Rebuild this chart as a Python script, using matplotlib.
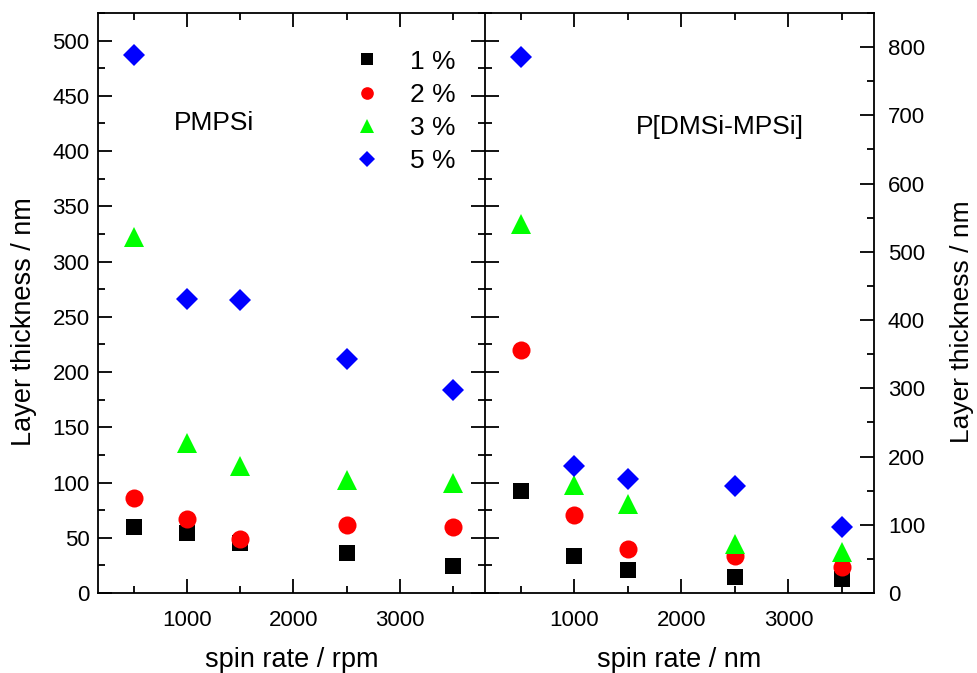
import matplotlib
matplotlib.use("Agg")
import matplotlib.pyplot as plt

plt.rcParams['font.family'] = ['Liberation Sans', 'DejaVu Sans']

spin = [500, 1000, 1500, 2500, 3500]

# PMPSi layer thickness (nm)
pmpsi_1 = [59.5, 54.6, 45, 36.5, 24.5]
pmpsi_2 = [85.7, 66.7, 48.6, 61.6, 59.5]
pmpsi_3 = [322, 136, 115, 102, 100]
pmpsi_5 = [487, 266, 265.5, 212, 183.5]

# P[DMSi-MPSi] layer thickness (nm)
copo_1 = [149, 53.7, 33.2, 23.5, 20.5]
copo_2 = [355.7, 113.8, 65, 54, 38]
copo_3 = [540.8, 157.6, 130.2, 72, 59.4]
copo_5 = [785, 185.6, 167, 156.3, 96.2]

labels = ['1 %', '2 %', '3 %', '5 %']
colors = ['black', '#ff0000', '#00ff00', '#0000ff']
markers = ['s', 'o', '^', 'D']
sizes = [12, 13, 14, 11.5]

fig = plt.figure(figsize=(9.78, 6.73), dpi=100)
ax1 = fig.add_axes([0.1002, 0.1189, 0.3957, 0.8618])
ax2 = fig.add_axes([0.4959, 0.1189, 0.3978, 0.8618])
ax2.patch.set_alpha(0)

for ax, series in ((ax1, [pmpsi_1, pmpsi_2, pmpsi_3, pmpsi_5]),
                   (ax2, [copo_1, copo_2, copo_3, copo_5])):
    for y, lab, c, m, s in zip(series, labels, colors, markers, sizes):
        ax.plot(spin, y, linestyle='none', marker=m, color=c, markersize=s,
                markeredgewidth=0, label=lab)
    ax.set_xlim(165, 3800)
    ax.set_xticks([1000, 2000, 3000])
    ax.set_xticks([500, 1500, 2500, 3500], minor=True)
    for sp in ax.spines.values():
        sp.set_linewidth(1.3)
    ax.tick_params(which='both', direction='in', top=True, width=1.3,
                   labelsize=16)
    ax.tick_params(axis='x', which='both', pad=12)
    ax.tick_params(which='major', length=10)
    ax.tick_params(which='minor', length=5)

# left panel
ax1.set_ylim(0, 525)
ax1.set_yticks(range(0, 501, 50))
ax1.set_yticks(range(25, 526, 50), minor=True)
ax1.tick_params(axis='y', which='both', right=True, pad=6)
ax1.set_xlabel('spin rate / rpm', fontsize=19.5, labelpad=12)
ax1.set_ylabel('Layer thickness / nm', fontsize=19.5, labelpad=11, y=0.467)
ax1.text(0.3, 0.81, 'PMPSi', transform=ax1.transAxes, fontsize=19,
         ha='center', va='center')

# shared middle spine: left-panel ticks also point into the right panel
yt = list(range(0, 501, 50))
ym = list(range(25, 526, 50))
ax1.plot([1] * len(yt), yt, transform=ax1.get_yaxis_transform(),
         linestyle='none', marker=1, markersize=10, markeredgewidth=1.3,
         color='black', clip_on=False)
ax1.plot([1] * len(ym), ym, transform=ax1.get_yaxis_transform(),
         linestyle='none', marker=1, markersize=5, markeredgewidth=1.3,
         color='black', clip_on=False)

leg = ax1.legend(loc='upper right', bbox_to_anchor=(0.952, 0.955),
                 frameon=False, fontsize=19, markerscale=0.7,
                 handletextpad=0.63, labelspacing=0.35, borderaxespad=0)

# right panel
ax2.spines['left'].set_visible(False)
ax2.set_ylim(0, 850)
ax2.set_yticks(range(0, 801, 100))
ax2.set_yticks(range(50, 851, 100), minor=True)
ax2.yaxis.set_label_position('right')
ax2.tick_params(axis='y', which='both', left=False, labelleft=False,
                right=True, labelright=True, pad=10)
ax2.set_xlabel('spin rate / nm', fontsize=19.5, labelpad=12)
ax2.set_ylabel('Layer thickness / nm', fontsize=19, labelpad=18, y=0.467)
ax2.text(0.603, 0.804, 'P[DMSi-MPSi]', transform=ax2.transAxes, fontsize=19,
         ha='center', va='center')

fig.savefig('out.png', dpi=100)
